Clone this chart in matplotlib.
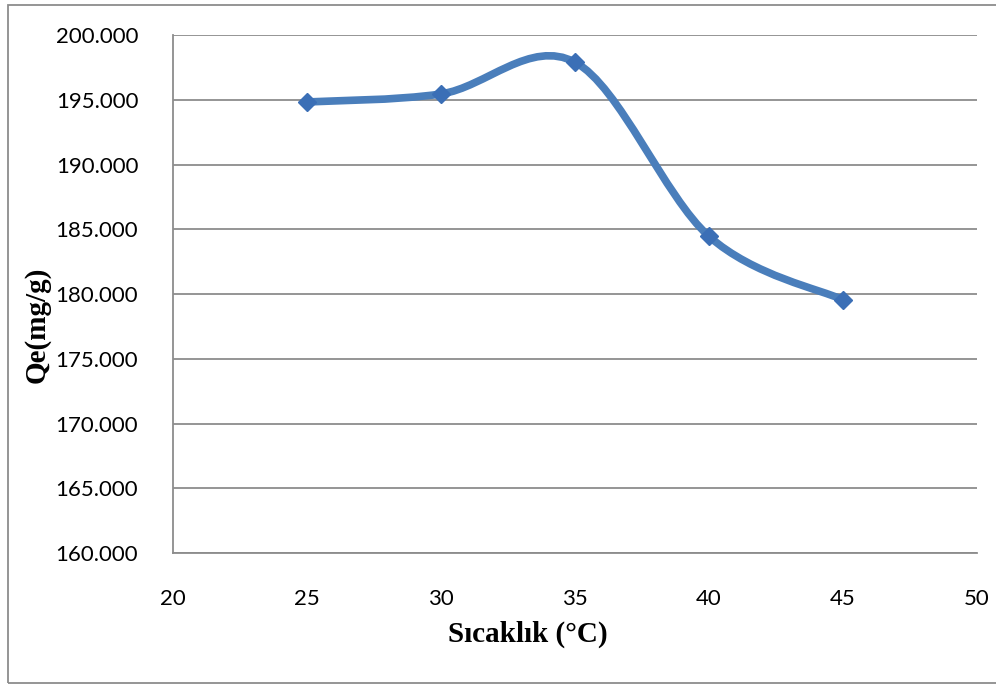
import numpy as np
import matplotlib.pyplot as plt
from matplotlib.path import Path
from matplotlib.patches import PathPatch, Rectangle

# Veriler
sicaklik = [25, 30, 35, 40, 45]
qe = [194.83, 195.45, 197.9, 184.45, 179.55]

y_ticks = [160, 165, 170, 175, 180, 185, 190, 195, 200]
y_labels = ['160.000', '165.000', '170.000', '175.000', '180.000',
            '185.000', '190.000', '195.000', '200.000']
x_ticks = [20, 25, 30, 35, 40, 45, 50]

line_color = '#4a7ebb'
marker_color = '#3b6fb6'

fig = plt.figure(figsize=(9.96, 6.84), dpi=100)
ax = fig.add_axes([0.1737, 0.1915, 0.8073, 0.7573])

# Excel tarzı yumuşatılmış çizgi (Bezier)
pts = np.column_stack([sicaklik, qe])
verts = [pts[0]]
codes = [Path.MOVETO]
n = len(pts)
for i in range(n - 1):
    p0 = pts[max(i - 1, 0)]
    p1 = pts[i]
    p2 = pts[i + 1]
    p3 = pts[min(i + 2, n - 1)]
    c1 = p1 + (p2 - p0) / 6.0
    c2 = p2 - (p3 - p1) / 6.0
    verts += [c1, c2, p2]
    codes += [Path.CURVE4] * 3
ax.add_patch(PathPatch(Path(verts, codes), facecolor='none', edgecolor=line_color,
                       linewidth=5.5, capstyle='round', joinstyle='round', zorder=3))
ax.plot(sicaklik, qe, linestyle='none', marker='D', markersize=9,
        color=marker_color, zorder=4)

ax.set_xlim(20, 50)
ax.set_ylim(160, 200)
ax.set_yticks(y_ticks)
ax.set_yticklabels(y_labels)
ax.set_xticks(x_ticks)
ax.grid(axis='y', color='#8c8c8c', linewidth=1.3)
ax.set_axisbelow(True)
for s in ['top', 'right']:
    ax.spines[s].set_visible(False)
for s in ['left', 'bottom']:
    ax.spines[s].set_color('#8c8c8c')
    ax.spines[s].set_linewidth(1.3)
ax.tick_params(length=0, labelsize=16)
ax.tick_params(axis='y', pad=25)
ax.tick_params(axis='x', pad=26)
for lab in ax.get_xticklabels() + ax.get_yticklabels():
    lab.set_family('Lato')

ax.set_xlabel('Sıcaklık (°C)', family='Liberation Serif', fontweight='bold',
              fontsize=21)
ax.set_ylabel('Qe(mg/g)', family='Liberation Serif', fontweight='bold',
              fontsize=21)
ax.xaxis.set_label_coords(0.4415, -0.131)
ax.yaxis.set_label_coords(-0.152, 0.44)

# Grafik çerçevesi
fig.patches.append(Rectangle((8 / 996, 1 / 684), 1.0, 678 / 684, transform=fig.transFigure,
                             fill=False, edgecolor='#8c8c8c', linewidth=1.3))

plt.savefig('out.png', dpi=100)
